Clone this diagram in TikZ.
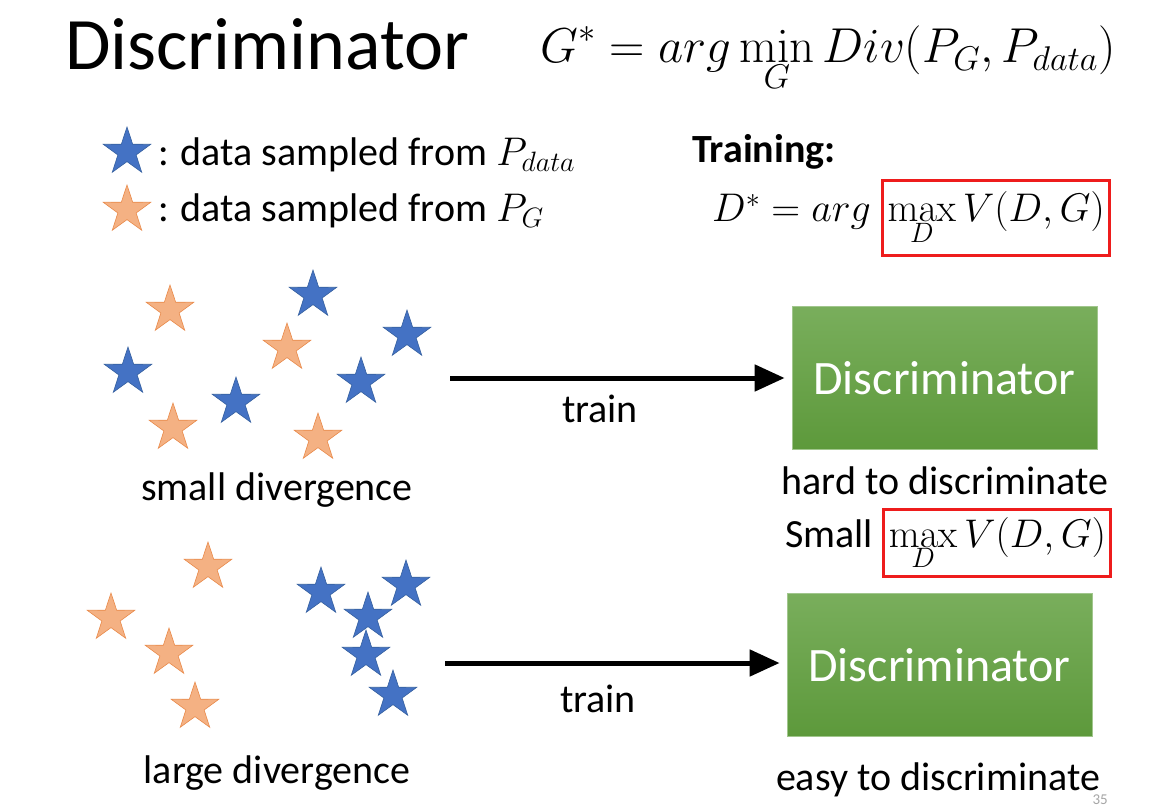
\documentclass[tikz,border=0pt]{standalone}
\usepackage{fix-cm}
\usepackage[no-math]{fontspec}
\setmainfont{Carlito}
\usetikzlibrary{
  arrows.meta,
  shapes.geometric,
  positioning
}
\definecolor{isData}{HTML}{4472C4}
\definecolor{isDataLine}{HTML}{35609F}
\definecolor{isGen}{HTML}{F4B183}
\definecolor{isGenLine}{HTML}{E98A4A}
\definecolor{isBoxTop}{HTML}{79AE5C}
\definecolor{isBoxBot}{HTML}{5D993B}
\definecolor{isMark}{HTML}{EE1C1C}
\definecolor{isPage}{HTML}{A6A6A6}

\begin{document}
\begin{tikzpicture}[x=1pt, y=-1pt,
  realstar/.style={star, star points=5, star point ratio=2.6, minimum size=50pt, inner sep=0pt,
    fill=isData, draw=isDataLine, line width=0.6pt},
  fakestar/.style={realstar, fill=isGen, draw=isGenLine},
  discbox/.style={minimum width=305pt, minimum height=143pt, top color=isBoxTop, bottom color=isBoxBot,
    draw=isBoxTop!70!white, line width=0.8pt, text=white, font=\fontsize{48}{56}\selectfont},
  marked/.style={draw=isMark, line width=3pt, inner xsep=5pt},
  txt/.style={font=\fontsize{40}{48}\selectfont, inner sep=0pt},
  trainarrow/.style={line width=5pt, -{Triangle[length=30pt, width=26pt]}}
]
  \useasboundingbox[fill=white] (0,0) rectangle (1155,810);

  % heading and objective
  \node[anchor=base west, inner sep=0pt, font=\fontsize{74}{80}\selectfont] (title) at (65,70) {Discriminator};
  \node[anchor=base west, inner sep=0pt, font=\fontsize{49}{56}\selectfont] (goal) at (540,63)
    {$\displaystyle G^{*} = arg\min_{G} Div(P_{G},P_{data})$};

  % legend
  \node[realstar] (keydata) at (127,152) {};
  \node[txt, anchor=base west] (keydatatxt) at (158,166) {: data sampled from $P_{data}$};
  \node[fakestar] (keygen) at (127,210) {};
  \node[txt, anchor=base west] (keygentxt) at (158,222) {: data sampled from $P_{G}$};

  % training objective
  \node[txt, anchor=base west, font=\bfseries\fontsize{40}{48}\selectfont] (trainhead) at (692,163) {Training:};
  \node[txt, anchor=base west] (dstar) at (712,222) {$D^{*} = arg$};
  \node[txt, marked, inner ysep=12pt, anchor=base west] (dmax) at ([xshift=10pt]dstar.base east)
    {$\displaystyle\max_{D} V(D,G)$};

  % small divergence
  \foreach \px/\py [count=\i] in {128/372, 313/295, 407/335, 236/402, 361/382}
    \node[realstar] (topdata\i) at (\px,\py) {};
  \foreach \px/\py [count=\i] in {170/310, 287/348, 173/428, 318/438}
    \node[fakestar] (topgen\i) at (\px,\py) {};
  \node[txt, anchor=base] (smalldiv) at (277,500) {small divergence};

  \coordinate (topstart) at (450,378);
  \node[discbox] (topdisc) at (944.5,378) {Discriminator};
  \draw[trainarrow, shorten >=7pt] (topstart) -- (topdisc.west);
  \node[txt, anchor=base] (toptrain) at (600,422) {train};
  \node[txt, anchor=base] (hardtxt) at (945,494) {hard to discriminate};
  \node[txt, anchor=base west] (smalltxt) at (785,547) {Small};
  \node[txt, marked, inner ysep=8pt, anchor=base west] (smallmax) at ([xshift=9pt]smalltxt.base east)
    {$\displaystyle\max_{D} V(D,G)$};

  % large divergence
  \foreach \px/\py [count=\i] in {321/592, 406/585, 368/617, 366/655, 393/695}
    \node[realstar] (botdata\i) at (\px,\py) {};
  \foreach \px/\py [count=\i] in {208/567, 111/618, 169/653, 195/707}
    \node[fakestar] (botgen\i) at (\px,\py) {};
  \node[txt, anchor=base] (largediv) at (277,783) {large divergence};

  \coordinate (botstart) at (445,663);
  \node[discbox] (botdisc) at (939.5,665) {Discriminator};
  \draw[trainarrow, shorten >=7pt] (botstart) -- (botdisc.west |- botstart);
  \node[txt, anchor=base] (bottrain) at (598,712) {train};
  \node[txt, anchor=base] (easytxt) at (938,790) {easy to discriminate};

  \node[anchor=base east, inner sep=0pt, text=isPage, font=\fontsize{15}{18}\selectfont] (pagenum) at (1108,804) {35};
\end{tikzpicture}
\end{document}
